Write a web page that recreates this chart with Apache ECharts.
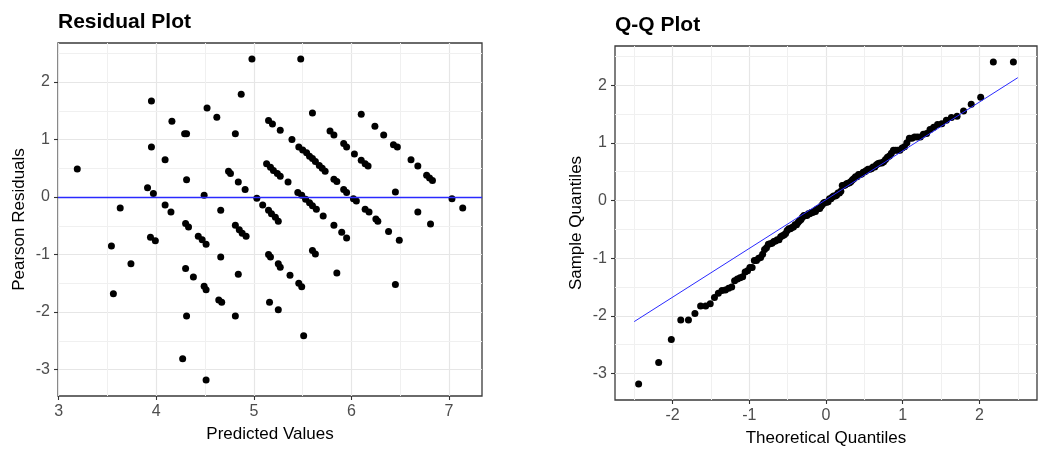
<!DOCTYPE html>
<html><head><meta charset="utf-8">
<script src="https://cdn.jsdelivr.net/npm/echarts@6/dist/echarts.min.js"></script>
<style>html,body{margin:0;padding:0;background:#fff}#c{width:1059px;height:452px}</style>
</head><body><div id="c"></div>
<script>
// ---- data ----
const predicted = [
 3.19,3.54,3.56,3.63,3.74,3.91,3.95,3.95,3.97,3.94,3.99,4.09,4.09,4.16,4.15,4.29,4.31,4.31,4.30,4.33,
 4.30,4.38,4.31,4.27,4.49,4.52,4.43,4.47,4.51,4.49,4.51,4.51,4.62,4.66,4.66,4.64,4.67,4.74,4.76,4.81,
 4.87,4.84,4.91,4.81,4.85,4.88,4.92,4.84,4.81,4.98,5.03,5.09,5.15,5.18,5.22,5.25,5.15,5.17,5.25,5.27,
 5.37,5.46,5.49,5.16,5.25,5.51,5.48,5.60,5.15,5.19,5.27,5.39,5.46,5.50,5.54,5.57,5.60,5.63,5.67,5.70,
 5.73,5.13,5.17,5.20,5.24,5.27,5.35,5.45,5.49,5.53,5.57,5.60,5.64,5.71,5.82,5.90,5.95,5.60,5.63,5.85,
 5.78,5.82,5.92,5.95,6.03,6.10,6.14,6.17,5.82,5.85,5.92,5.95,6.02,6.05,6.14,6.18,6.25,6.27,6.38,6.49,
 6.10,6.24,6.33,6.43,6.47,6.45,6.45,6.61,6.68,6.77,6.80,6.83,6.68,6.81,7.03,7.14
];
const residuals = [
 0.49,-0.85,-1.68,-0.19,-1.16,0.16,1.67,0.87,0.06,-0.70,-0.76,0.65,-0.14,1.32,-0.26,1.10,1.10,0.30,-0.46,-0.52,
 -1.24,-1.39,-2.07,-2.81,0.03,1.55,-0.68,-0.74,-0.82,-1.55,-1.61,-3.18,1.39,-0.23,-1.04,-1.79,-1.83,0.45,0.41,1.10,
 1.79,0.26,0.13,-0.49,-0.57,-0.63,-0.68,-1.34,-2.07,2.40,-0.02,-0.14,-0.23,-0.29,-0.35,-0.42,-1.00,-1.04,-1.16,-1.22,
 -1.36,-1.50,-1.56,-1.83,-1.96,-2.41,2.40,1.46,1.33,1.27,1.16,1.00,0.87,0.82,0.77,0.71,0.67,0.62,0.55,0.50,
 0.45,0.58,0.52,0.46,0.41,0.36,0.26,0.08,0.03,-0.04,-0.10,-0.15,-0.21,-0.33,-0.49,-0.61,-0.71,-0.93,-0.99,-1.32,
 1.15,1.08,0.93,0.87,0.75,0.64,0.58,0.54,0.31,0.27,0.13,0.08,-0.03,-0.07,-0.21,-0.26,-0.38,-0.42,-0.60,-0.75,
 1.44,1.23,1.08,0.91,0.87,0.09,-1.52,0.65,0.54,0.38,0.33,0.29,-0.26,-0.47,-0.03,-0.19
];
// reference line of the Q-Q plot (end points)
const qqLineX = [-2.5, 2.5];
const qqLineY = [-2.10, 2.13];
// tick labels
const residXTicks = [3, 4, 5, 6, 7];
const residYTicks = [-3, -2, -1, 0, 1, 2];
const qqXTicks = [-2, -1, 0, 1, 2];
const qqYTicks = [-3, -2, -1, 0, 1, 2];
const qqXRange = [-2.75, 2.75];

// ---- helpers ----
function qnorm(p){
 const a=[-3.969683028665376e+01,2.209460984245205e+02,-2.759285104469687e+02,1.383577518672690e+02,-3.066479806614716e+01,2.506628277459239e+00];
 const b=[-5.447609879822406e+01,1.615858368580409e+02,-1.556989798598866e+02,6.680131188771972e+01,-1.328068155288572e+01];
 const c=[-7.784894002430293e-03,-3.223964580411365e-01,-2.400758277161838e+00,-2.549732539343734e+00,4.374664141464968e+00,2.938163982698783e+00];
 const d=[7.784695709041462e-03,3.224671290700398e-01,2.445134137142996e+00,3.754408661907416e+00];
 const pl=0.02425, ph=1-pl; let q,r;
 if(p<pl){q=Math.sqrt(-2*Math.log(p));return (((((c[0]*q+c[1])*q+c[2])*q+c[3])*q+c[4])*q+c[5])/((((d[0]*q+d[1])*q+d[2])*q+d[3])*q+1);}
 if(p>ph){q=Math.sqrt(-2*Math.log(1-p));return -(((((c[0]*q+c[1])*q+c[2])*q+c[3])*q+c[4])*q+c[5])/((((d[0]*q+d[1])*q+d[2])*q+d[3])*q+1);}
 q=p-0.5;r=q*q;return (((((a[0]*r+a[1])*r+a[2])*r+a[3])*r+a[4])*r+a[5])*q/(((((b[0]*r+b[1])*r+b[2])*r+b[3])*r+b[4])*r+1);
}
function padRange(arr){
 const mn=Math.min(...arr), mx=Math.max(...arr), s=mx-mn;
 return [mn-0.05*s, mx+0.05*s];
}
// half-way (minor) break values inside an axis range
function minorBreaks(ticks, range){
 const out=[];
 for(let k=ticks[0]-1;k<=ticks[ticks.length-1];k++){
  const v=k+0.5; if(v>range[0]&&v<range[1]) out.push(v);
 }
 return out;
}
const residPoints = predicted.map((x,i)=>[x, residuals[i]]);
const sorted = residuals.slice().sort((a,b)=>a-b);
const n = sorted.length;
const qqPoints = sorted.map((v,i)=>[qnorm((i+1)/(n+1)), v]);
const qqLine = qqLineX.map((x,i)=>[x, qqLineY[i]]);

const xRangeL = padRange(predicted);
const yRange = padRange(residuals);

const FONT = '"Liberation Sans", Arial, sans-serif';
function axis(gridIndex, range, ticks, name, nameGap){
 return {
  type:'value', gridIndex, min:range[0], max:range[1],
  name, nameLocation:'middle', nameGap,
  nameTextStyle:{fontFamily:FONT, fontSize:17, color:'#000'},
  axisLine:{show:false, onZero:false},
  axisTick:{show:true, length:4, lineStyle:{color:'#333', width:1.1}, customValues:ticks},
  axisLabel:{fontFamily:FONT, fontSize:16, color:'#4d4d4d', margin:8, customValues:ticks,
    formatter:v=>String(v)},
  splitLine:{show:true, lineStyle:{color:'#e6e6e6', width:1.2}}
 };
}
function minorGrid(xi, xTicks, xRange, yTicks, yRng){
 const data = minorBreaks(xTicks, xRange).map(v=>({xAxis:v}))
   .concat(minorBreaks(yTicks, yRng).map(v=>({yAxis:v})));
 return {type:'line', xAxisIndex:xi, yAxisIndex:xi, data:[], z:0, silent:true,
   markLine:{z:0, zlevel:0, silent:true, symbol:'none', label:{show:false}, animation:false,
     lineStyle:{color:'#f0f0f0', width:1, type:'solid'}, data}};
}

const chart = echarts.init(document.getElementById('c'), null, {renderer:'canvas'});
chart.setOption({
 animation:false,
 backgroundColor:'#fff',
 title:[
  {text:'Residual Plot', left:58, top:12, padding:0, textStyle:{fontFamily:FONT, fontSize:21, fontWeight:'bold', color:'#000'}},
  {text:'Q-Q Plot', left:615, top:15, padding:0, textStyle:{fontFamily:FONT, fontSize:21, fontWeight:'bold', color:'#000'}}
 ],
 grid:[
  {left:58, top:43, width:424, height:353, show:true, borderColor:'#3a3a3a', borderWidth:1.3, backgroundColor:'#fff'},
  {left:615, top:46, width:422, height:356, show:true, borderColor:'#3a3a3a', borderWidth:1.3, backgroundColor:'#fff'}
 ],
 xAxis:[
  axis(0, xRangeL, residXTicks, 'Predicted Values', 30),
  axis(1, qqXRange, qqXTicks, 'Theoretical Quantiles', 30)
 ],
 yAxis:[
  axis(0, yRange, residYTicks, 'Pearson Residuals', 30),
  axis(1, yRange, qqYTicks, 'Sample Quantiles', 30)
 ],
 series:[
  minorGrid(0, residXTicks, xRangeL, residYTicks, yRange),
  minorGrid(1, qqXTicks, qqXRange, qqYTicks, yRange),
  {type:'scatter', xAxisIndex:0, yAxisIndex:0, data:residPoints, symbolSize:7, z:10,
   itemStyle:{color:'#000', opacity:1}, silent:true,
   markLine:{z:11, silent:true, symbol:'none', label:{show:false},
     lineStyle:{color:'#2a2aff', width:1.3, type:'solid'}, data:[{yAxis:0}]}},
  {type:'scatter', xAxisIndex:1, yAxisIndex:1, data:qqPoints, symbolSize:7, z:10,
   itemStyle:{color:'#000', opacity:1}, silent:true},
  {type:'line', xAxisIndex:1, yAxisIndex:1, data:qqLine, symbol:'none', silent:true,
   lineStyle:{color:'#2a2aff', width:1}, z:11}
 ]
});
</script></body></html>
